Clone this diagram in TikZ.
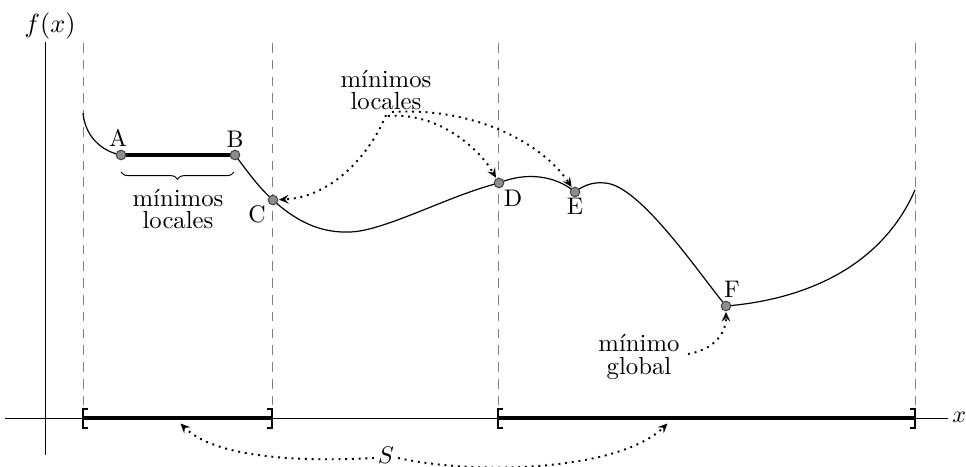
\documentclass[tikz,border=0pt]{standalone}
\usepackage{fontspec}
\usetikzlibrary{arrows.meta,decorations.pathreplacing}
\begin{document}
\begin{tikzpicture}[x=0.4167pt,y=-0.4167pt,
  pt/.style={circle,draw=black!75,fill=gray!90,inner sep=0pt,minimum size=4pt,line width=0.4pt},
  lab/.style={anchor=base,inner sep=0pt},
  txt/.style={align=center,inner sep=0pt,font={\fontsize{10.3pt}{9.3pt}\selectfont}},
  guide/.style={gray,dash pattern=on 4pt off 3pt,line width=0.4pt},
  fcurve/.style={line width=0.5pt},
  seg/.style={line width=1.8pt},
  bracket/.style={line width=0.8pt},
  callout/.style={thick,dotted,-{Stealth[length=4pt,width=3.6pt,inset=1.5pt]},shorten >=0.3pt}
]
\useasboundingbox (0,0) rectangle (966,467);
% axes
\coordinate (yb) at (45,455); \coordinate (yt) at (45,42);
\draw (yb) -- (yt);
\node[lab,font=\fontsize{10.5pt}{12pt}\selectfont] (fx) at (50,33) {$f(x)$};
\coordinate (xl) at (5,418); \coordinate (xr) at (948,418);
\draw (xl) -- (xr);
\node[anchor=west,inner sep=0pt] (xlab) at (952,417) {$x$};
% guides
\foreach \gx/\nm in {83/g1,272/g2,498/g3,915/g4}{
  \coordinate (\nm t) at (\gx,43); \coordinate (\nm b) at (\gx,418);
  \draw[guide] (\nm t) -- (\nm b);}
% point positions
\coordinate (pA) at (121,155);
\coordinate (pB) at (235,155);
\coordinate (pC) at (273,200);
\coordinate (pD) at (499,183);
\coordinate (pE) at (575,192);
\coordinate (pF) at (726,306);
% curve
\draw[fcurve] (83,113) .. controls (85,135) and (100,151) .. (pA);
\draw[fcurve] (pB) .. controls (245,168) and (258,187) .. (pC)
  .. controls (300,225) and (325,233) .. (350,232)
  .. controls (385,231) and (450,195) .. (pD)
  .. controls (525,172) and (555,175) .. (pE)
  .. controls (585,184) and (595,182) .. (605,183)
  .. controls (640,185) and (700,275) .. (pF)
  .. controls (800,300) and (880,270) .. (915,190);
\draw[seg] (pA) -- (pB);
% points
\foreach \p in {A,B,C,D,E,F}{\node[pt] (\p) at (p\p) {};}
% labels
\node[lab] (lA) at (118,147) {A};
\node[lab] (lB) at (235,148) {B};
\node[lab] (lC) at (257,223) {C};
\node[lab] (lD) at (513,207) {D};
\node[lab] (lE) at (575,215) {E};
\node[lab] (lF) at (732,298) {F};
% brace
\coordinate (brL) at (121,172); \coordinate (brR) at (234,172);
\draw[decorate,decoration={brace,mirror,amplitude=3pt},line width=0.4pt] (brL) -- (brR);
\node[txt] (ml1) at (178,209) {mínimos\\locales};
% top callout
\node[txt] (ml2) at (386,90) {mínimos\\locales};
\coordinate (s1) at (386,115);
\coordinate (s2) at (388,116);
\coordinate (s3) at (392,112);
\draw[callout] (s1) .. controls (372,150) and (335,197) .. (C);
\draw[callout] (s2) .. controls (440,112) and (480,150) .. (D);
\draw[callout] (s3) .. controls (470,107) and (540,140) .. (E);
% global minimum
\node[txt] (mg) at (639,357) {mínimo\\global};
\coordinate (g0) at (688,354);
\draw[callout] (g0) .. controls (712,350) and (726,335) .. (F);
% set S
\draw[bracket] (88,409) -- (83,409) -- (83,428) -- (88,428);
\draw[bracket] (267,409) -- (272,409) -- (272,428) -- (267,428);
\draw[bracket] (503,409) -- (498,409) -- (498,428) -- (503,428);
\draw[bracket] (910,409) -- (915,409) -- (915,428) -- (910,428);
\draw[seg] (g1b) -- (g2b);
\draw[seg] (g3b) -- (g4b);
\node[lab] (S) at (386,464) {$S$};
\coordinate (sL) at (374,458); \coordinate (tL) at (180,423);
\coordinate (sR) at (398,458); \coordinate (tR) at (668,423);
\draw[callout] (sL) .. controls (300,462) and (215,458) .. (tL);
\draw[callout] (sR) .. controls (480,476) and (620,470) .. (tR);
\end{tikzpicture}
\end{document}
